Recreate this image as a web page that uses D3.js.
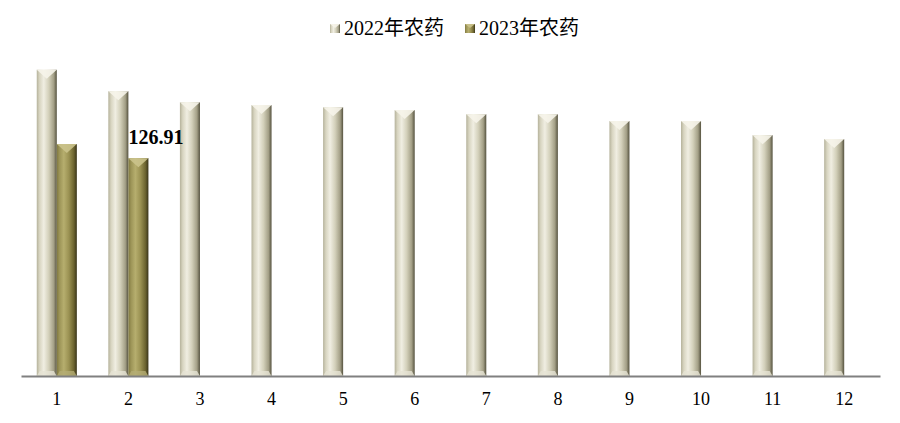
<!DOCTYPE html>
<html>
<head>
<meta charset="utf-8">
<script src="https://cdn.jsdelivr.net/npm/d3@7"></script>
<style>
  body { margin: 0; background: #fff; }
  text { font-family: "Liberation Serif", "Times New Roman", "Noto Sans CJK SC", serif; }
</style>
</head>
<body>
<svg width="900" height="423"></svg>
<script>
const months = ["1", "2", "3", "4", "5", "6", "7", "8", "9", "10", "11", "12"];
const seriesNames = ["2022年农药", "2023年农药"];
const values2022 = [178.4, 165.9, 159.5, 157.8, 156.6, 154.9, 152.5, 152.5, 148.5, 148.5, 140.3, 138.0];
const values2023 = [135.1, 126.91];
const labelledMonths = ["2"];

const svg = d3.select("svg");
const width = +svg.attr("width");
const height = +svg.attr("height");

const baseY = 376;
const topY = 67;

const x = d3.scaleBand()
	.domain(months)
	.range([21, 880])
	.paddingInner(0.44)
	.paddingOuter(0.22);

const xSub = d3.scaleBand()
	.domain(seriesNames)
	.range([0, x.bandwidth()]);

const y = d3.scaleLinear()
	.domain([0, 180])
	.range([baseY, topY]);

// gradients giving the bevelled look
const defs = svg.append("defs");
const palettes = [
	{ stops: ["#b5b29b", "#d8d5c1", "#f0eee2", "#d3d0ba", "#a39f86", "#55523f"], cap: "#f6f4ea", foot: "#e6e3d4" },
	{ stops: ["#807940", "#9d9558", "#b6ae6e", "#9b9253", "#6c6430", "#39341a"], cap: "#cbc38c", foot: "#b4ac74" }
];
const stopOffsets = [0, 0.14, 0.35, 0.6, 0.85, 1];

palettes.forEach((p, i) => {
	const grad = defs.append("linearGradient")
		.attr("id", `grad${i}`)
		.attr("x1", 0).attr("x2", 1)
		.attr("y1", 0).attr("y2", 0);
	grad.selectAll("stop")
		.data(p.stops)
		.join("stop")
			.attr("offset", (d, j) => stopOffsets[j])
			.attr("stop-color", d => d);
});

const rows = [];
months.forEach((m, i) => {
	rows.push({ month: m, series: seriesNames[0], value: values2022[i], s: 0 });
	if (values2023[i] !== undefined) {
		rows.push({ month: m, series: seriesNames[1], value: values2023[i], s: 1 });
	}
});

const barsG = svg.append("g");

const bar = barsG.selectAll("g.bar")
	.data(rows)
	.join("g")
		.attr("class", "bar")
		.attr("transform", d => `translate(${x(d.month) + xSub(d.series)}, 0)`);

const bw = xSub.bandwidth();

bar.append("rect")
	.attr("x", 0)
	.attr("y", d => y(d.value))
	.attr("width", bw)
	.attr("height", d => baseY - y(d.value))
	.attr("fill", d => `url(#grad${d.s})`);

// pointed top facet
bar.append("path")
	.attr("d", d => {
		const t = y(d.value);
		return `M0,${t} L${bw},${t} L${bw / 2},${t + 9} Z`;
	})
	.attr("fill", d => palettes[d.s].cap)
	.attr("opacity", 0.9);

// bottom facet
bar.append("path")
	.attr("d", `M0,${baseY} L3,${baseY - 5} L${bw - 3},${baseY - 5} L${bw},${baseY} Z`)
	.attr("fill", d => palettes[d.s].foot)
	.attr("opacity", 0.8);

// data label
barsG.selectAll("text.label")
	.data(rows.filter(d => d.s === 1 && labelledMonths.includes(d.month)))
	.join("text")
		.attr("class", "label")
		.attr("x", d => x(d.month) + xSub(d.series))
		.attr("y", d => y(d.value) - 14)
		.attr("font-size", 20)
		.attr("font-weight", "bold")
		.attr("fill", "#000")
		.text(d => d.value.toFixed(2));

// x axis
const xAxis = svg.append("g")
	.attr("transform", `translate(0, ${baseY})`)
	.call(d3.axisBottom(x).tickSize(0).tickPadding(16));

xAxis.select(".domain")
	.attr("stroke", "#808080")
	.attr("stroke-width", 2);

xAxis.selectAll("text")
	.attr("font-size", 18)
	.attr("fill", "#000")
	.style("font-family", "'Liberation Serif', serif");

// legend
const legend = svg.append("g")
	.attr("transform", "translate(330, 0)");

const item = legend.selectAll("g")
	.data(seriesNames)
	.join("g")
		.attr("transform", (d, i) => `translate(${i * 135}, 0)`);

item.append("rect")
	.attr("x", 0)
	.attr("y", 24)
	.attr("width", 10)
	.attr("height", 9)
	.attr("fill", (d, i) => `url(#grad${i})`);

item.append("path")
	.attr("d", "M0,24 L10,24 L5,28 Z")
	.attr("fill", (d, i) => palettes[i].cap)
	.attr("opacity", 0.9);

item.append("text")
	.attr("x", 14)
	.attr("y", 35)
	.attr("font-size", 20)
	.attr("fill", "#000")
	.text(d => d);
</script>
</body>
</html>
